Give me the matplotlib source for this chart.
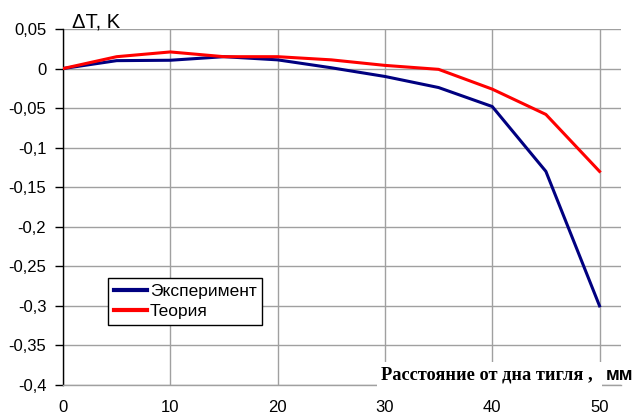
import matplotlib
matplotlib.use("Agg")
import matplotlib.pyplot as plt
import matplotlib.ticker as mticker

# distance from crucible bottom, mm
x = [0, 5, 10, 15, 20, 25, 30, 35, 40, 45, 50]
experiment = [0.0, 0.010, 0.0105, 0.015, 0.011, 0.001, -0.010, -0.024, -0.048, -0.130, -0.300]
theory = [0.0, 0.015, 0.021, 0.015, 0.015, 0.011, 0.004, -0.001, -0.026, -0.058, -0.130]

y_ticks = [0.05, 0, -0.05, -0.1, -0.15, -0.2, -0.25, -0.3, -0.35, -0.4]
x_ticks = [0, 10, 20, 30, 40, 50]

plt.rcParams["font.family"] = ["Liberation Sans", "DejaVu Sans"]

fig = plt.figure(figsize=(6.36, 4.17), dpi=100)
ax = fig.add_axes([63 / 636, 32 / 417, 558 / 636, 356 / 417])

ax.plot(x, experiment, color="#000080", linewidth=2.2, label="Эксперимент", zorder=3)
ax.plot(x, theory, color="#FF0000", linewidth=2.2, label="Теория", zorder=3)

ax.set_xlim(0, 52)
ax.set_ylim(-0.4, 0.05)
ax.set_xticks(x_ticks)
ax.set_yticks(y_ticks)
ax.yaxis.set_major_formatter(
    mticker.FuncFormatter(lambda v, p: ("%g" % round(v, 3)).replace(".", ","))
)

ax.grid(True, color="#A0A0A0", linewidth=1.0, zorder=0)
for s in ["top", "right"]:
    ax.spines[s].set_visible(False)
ax.spines["left"].set_color("black")
ax.spines["left"].set_linewidth(1.0)
ax.spines["bottom"].set_color("#A0A0A0")
ax.spines["bottom"].set_linewidth(1.0)

ax.tick_params(axis="y", length=6, width=1, direction="out", pad=6, labelsize=12, colors="black")
ax.tick_params(axis="x", length=0, pad=11, labelsize=12, colors="black")

fig.text(72 / 636, 1 - 27 / 417, "ΔT, K", fontsize=14.5, fontweight="medium", va="baseline", ha="left")

fig.text(
    381 / 636, 1 - 375 / 417, "Расстояние от дна тигля , ",
    family=["Liberation Serif"], fontsize=13.2, fontweight="bold", va="center", ha="left",
    bbox=dict(facecolor="white", edgecolor="none", pad=3),
)
fig.text(
    633 / 636, 1 - 375 / 417, "мм",
    fontsize=13.5, fontweight="bold", va="center", ha="right",
)

leg = ax.legend(
    loc="upper left", bbox_to_anchor=(108 / 636, 1 - 278 / 417), bbox_transform=fig.transFigure,
    frameon=True, fancybox=False, edgecolor="black", facecolor="white", framealpha=1,
    fontsize=12.5, handlelength=1.9, handletextpad=0.15, borderpad=0.35, labelspacing=0.25,
    borderaxespad=0,
)
leg.get_frame().set_linewidth(1.0)
for h in leg.get_lines():
    h.set_linewidth(3.0)

fig.savefig("out.png", dpi=100)
